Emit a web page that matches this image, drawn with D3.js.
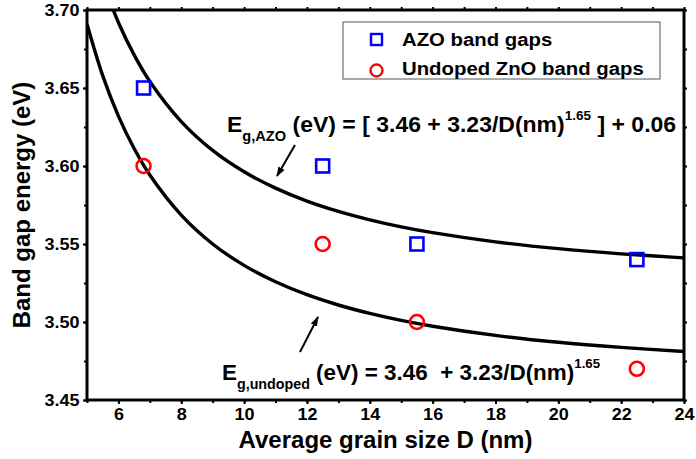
<!DOCTYPE html>
<html>
<head>
<meta charset="utf-8">
<script src="https://cdn.jsdelivr.net/npm/d3@7"></script>
<style>
  body { margin: 0; background: #fff; }
  text { font-family: Arial, "Liberation Sans", sans-serif; font-weight: bold; }
</style>
</head>
<body>
<div id="chart"></div>
<script>
// measured points
const grainSize = [6.8, 12.5, 15.5, 22.5];
const azoGap = [3.65, 3.60, 3.55, 3.54];
const undopedGap = [3.60, 3.55, 3.50, 3.47];

// fitted curves
const azoFitD = [5.5, 6, 6.5, 7, 8, 9, 10, 11, 12, 13, 14, 15, 16, 18, 20, 22, 24];
const azoFitE = [3.7179, 3.6920, 3.6712, 3.6542, 3.6285, 3.6100, 3.5963, 3.5858, 3.5775, 3.5709,
  3.5655, 3.5610, 3.5573, 3.5514, 3.5470, 3.5437, 3.5411];
const undopedFitD = [5, 5.5, 6, 6.5, 7, 8, 9, 10, 11, 12, 13, 14, 15, 16, 18, 20, 22, 24];
const undopedFitE = [3.6910, 3.6579, 3.6320, 3.6112, 3.5942, 3.5685, 3.5500, 3.5363, 3.5258, 3.5175,
  3.5109, 3.5055, 3.5010, 3.4973, 3.4914, 3.4870, 3.4837, 3.4811];

const xTicks = [6, 8, 10, 12, 14, 16, 18, 20, 22, 24];
const yTicks = [3.45, 3.50, 3.55, 3.60, 3.65, 3.70];

const margin = { top: 10, right: 12, bottom: 59, left: 87 };
const width = 696 - margin.left - margin.right;
const height = 459 - margin.top - margin.bottom;

const svg = d3.select("#chart")
  .append("svg")
  .attr("width", 696)
  .attr("height", 459)
  .append("g")
  .attr("transform", `translate(${margin.left}, ${margin.top})`);

const x = d3.scaleLinear().domain([5, 24]).range([0, width]);
const y = d3.scaleLinear().domain([3.45, 3.70]).range([height, 0]);

const defs = svg.append("defs");
defs.append("clipPath").attr("id", "clip")
  .append("rect").attr("width", width).attr("height", height);

// minor ticks
const xMinor = d3.range(5, 24.01, 1);
const yMinor = d3.range(3.45, 3.7001, 0.025);

function styleAxis(g) {
  g.select(".domain").remove();
  g.selectAll(".tick line").attr("stroke", "#000").attr("stroke-width", 2);
  g.selectAll(".tick text")
    .style("font-size", "17px")
    .attr("fill", "#000")
    .attr("transform", "scale(1.06,1)");
}

svg.append("g").attr("transform", `translate(0, ${height})`)
  .call(d3.axisBottom(x).tickValues(xMinor).tickSize(3).tickFormat(""))
  .call(styleAxis);
svg.append("g").attr("transform", `translate(0, ${height})`)
  .call(d3.axisBottom(x).tickValues(xTicks).tickSize(4).tickPadding(4).tickFormat(d3.format("d")))
  .call(styleAxis);
svg.append("g")
  .call(d3.axisTop(x).tickValues(xMinor).tickSize(3).tickFormat(""))
  .call(styleAxis);
svg.append("g")
  .call(d3.axisLeft(y).tickValues(yMinor).tickSize(3).tickFormat(""))
  .call(styleAxis);
svg.append("g")
  .call(d3.axisLeft(y).tickValues(yTicks).tickSize(4).tickPadding(3).tickFormat(d3.format(".2f")))
  .call(styleAxis);
svg.append("g").attr("transform", `translate(${width}, 0)`)
  .call(d3.axisRight(y).tickValues(yMinor).tickSize(3).tickFormat(""))
  .call(styleAxis);

// fit curves
const line = d3.line()
  .x(d => x(d[0]))
  .y(d => y(d[1]))
  .curve(d3.curveCatmullRom.alpha(0.5));

const curves = [d3.zip(azoFitD, azoFitE), d3.zip(undopedFitD, undopedFitE)];
svg.append("g").attr("clip-path", "url(#clip)")
  .selectAll("path")
  .data(curves)
  .join("path")
  .attr("d", line)
  .attr("fill", "none")
  .attr("stroke", "#000")
  .attr("stroke-width", 3.4);

// frame
svg.append("rect")
  .attr("width", width)
  .attr("height", height)
  .attr("fill", "none")
  .attr("stroke", "#000")
  .attr("stroke-width", 3);

// markers
svg.selectAll(".azo")
  .data(d3.zip(grainSize, azoGap))
  .join("rect")
  .attr("class", "azo")
  .attr("x", d => x(d[0]) - 6.5)
  .attr("y", d => y(d[1]) - 6.5)
  .attr("width", 13)
  .attr("height", 13)
  .attr("fill", "none")
  .attr("stroke", "#0000ff")
  .attr("stroke-width", 2.6);

svg.selectAll(".undoped")
  .data(d3.zip(grainSize, undopedGap))
  .join("circle")
  .attr("class", "undoped")
  .attr("cx", d => x(d[0]))
  .attr("cy", d => y(d[1]))
  .attr("r", 7)
  .attr("fill", "none")
  .attr("stroke", "#ff0000")
  .attr("stroke-width", 2.6);

// legend
const legend = svg.append("g").attr("transform", "translate(256, 12)");
legend.append("rect")
  .attr("width", 317)
  .attr("height", 57)
  .attr("fill", "#fff")
  .attr("stroke", "#555")
  .attr("stroke-width", 1);
legend.append("rect")
  .attr("x", 28).attr("y", 12).attr("width", 11).attr("height", 11)
  .attr("fill", "none").attr("stroke", "#0000ff").attr("stroke-width", 2.4);
legend.append("circle")
  .attr("cx", 33.5).attr("cy", 48.5).attr("r", 6)
  .attr("fill", "none").attr("stroke", "#ff0000").attr("stroke-width", 2.4);
legend.append("text").attr("transform", "translate(59, 24) scale(1.1,1)")
  .style("font-size", "18.5px").text("AZO band gaps");
legend.append("text").attr("transform", "translate(59, 53) scale(1.1,1)")
  .style("font-size", "18.5px").text("Undoped ZnO band gaps");

// equation labels
function equation(xPos, yPos, stretch, sub, parts) {
  const t = svg.append("text")
    .attr("transform", `translate(${xPos}, ${yPos}) scale(${stretch},1)`)
    .style("font-size", "22px");
  t.append("tspan").text("E");
  t.append("tspan").attr("dy", 9).style("font-size", "14px").text(sub);
  t.append("tspan").attr("dy", -9).text(parts[0]);
  t.append("tspan").attr("dy", -12).style("font-size", "13px").text("1.65");
  t.append("tspan").attr("dy", 12).text(parts[1]);
}
equation(140, 122, 1.045, "g,AZO", ["\u00a0(eV) = [ 3.46 + 3.23/D(nm)", " ] + 0.06"]);
equation(135, 370, 1.02, "g,undoped", ["\u00a0(eV) = 3.46\u00a0\u00a0+ 3.23/D(nm)", ""]);

// arrows
defs.append("marker")
  .attr("id", "head")
  .attr("viewBox", "0 0 10 10")
  .attr("refX", 9).attr("refY", 5)
  .attr("markerWidth", 5).attr("markerHeight", 5)
  .attr("orient", "auto")
  .append("path").attr("d", "M0,1.5 L10,5 L0,8.5 Z").attr("fill", "#000");

const arrows = [[[208, 135], [190, 166]], [[213, 342], [231, 307]]];
svg.selectAll(".arrow")
  .data(arrows)
  .join("line")
  .attr("class", "arrow")
  .attr("x1", d => d[0][0]).attr("y1", d => d[0][1])
  .attr("x2", d => d[1][0]).attr("y2", d => d[1][1])
  .attr("stroke", "#000")
  .attr("stroke-width", 2)
  .attr("marker-end", "url(#head)");

// axis titles
svg.append("text")
  .attr("x", width / 2)
  .attr("y", height + 48)
  .style("text-anchor", "middle")
  .style("font-size", "24px")
  .text("Average grain size D (nm)");

svg.append("text")
  .attr("x", -height / 2)
  .attr("y", -57)
  .attr("transform", "rotate(-90)")
  .style("text-anchor", "middle")
  .style("font-size", "24px")
  .text("Band gap energy (eV)");
</script>
</body>
</html>
